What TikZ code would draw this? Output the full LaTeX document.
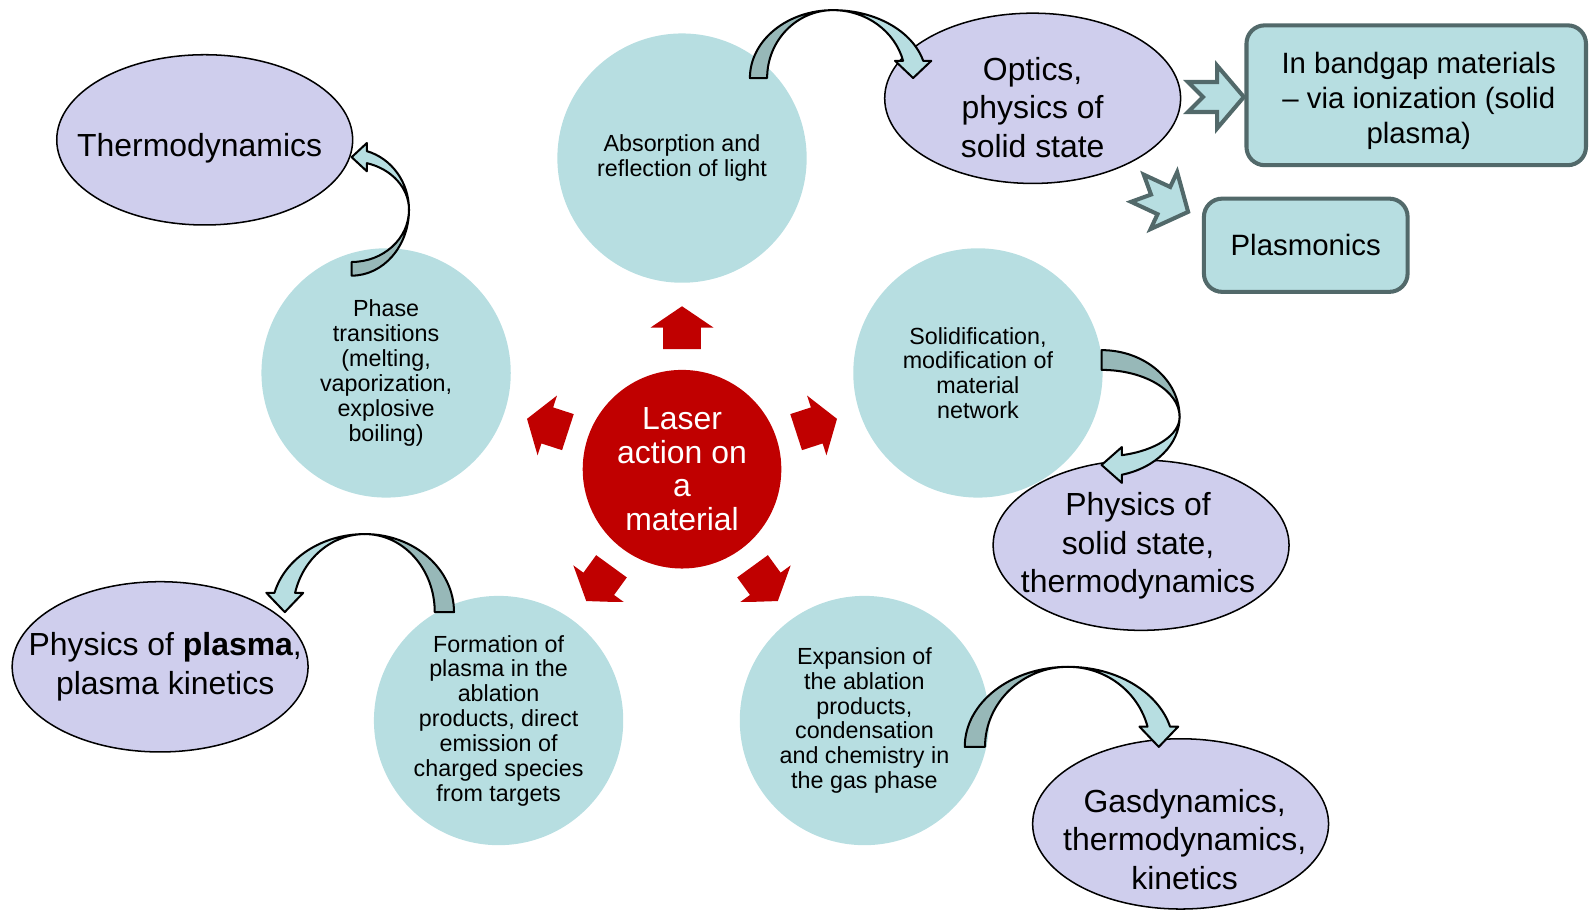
\documentclass[tikz,border=0pt]{standalone}
\usepackage{fontspec}
\setmainfont{Liberation Sans}
\usetikzlibrary{shapes.geometric}
\definecolor{circfill}{HTML}{B7DEE1}
\definecolor{lavfill}{HTML}{CFCEED}
\definecolor{laserred}{HTML}{C00000}
\definecolor{boxline}{HTML}{52696A}
\definecolor{bentdark}{HTML}{97B8B8}

% curved block arrow: #1,#2 foot centre, #3 turn/flip, #4 height,
% #5/#6 outer/inner radius at the tail, #7/#8 outer/inner radius at the head, #9 head length
\newcommand{\bentarrow}[9]{%
\begin{scope}[shift={(#1,#2)},x=1pt,y=1pt,#3]
\pgfmathsetmacro\bang{asin(#9/#4)}
\pgfmathsetmacro\bxo{#7*cos(\bang)}
\pgfmathsetmacro\bxi{#8*cos(\bang)}
\pgfmathsetmacro\bxt{(\bxo+\bxi)/2}
\filldraw[fill=bentdark,draw=black,line width=2pt,line join=round] (-#5,0) arc[start angle=180,end angle=90,x radius=#5,y radius=#4] arc[start angle=90,end angle=180,x radius=#6,y radius=#4] -- cycle;
\filldraw[fill=circfill,draw=black,line width=2pt,line join=round] (0,#4) arc[start angle=90,end angle=\bang,x radius=#7,y radius=#4] -- ({\bxo+8},#9) -- (\bxt,0) -- ({\bxi-8},#9) -- (\bxi,#9) arc[start angle=\bang,end angle=90,x radius=#8,y radius=#4] -- cycle;
\end{scope}}

% notched arrow: #1,#2 centre, #3 turn
\newcommand{\notcharrow}[3]{%
\filldraw[notch,shift={(#1,#2)},rotate=#3] (-27.6,14.8) -- (1.2,14.8) -- (1.2,31) -- (27.6,0) -- (1.2,-31) -- (1.2,-14.8) -- (-27.6,-14.8) -- (-12.8,0) -- cycle;}

\begin{document}
\begin{tikzpicture}[x=1pt,y=-1pt,
bubble/.style={circle,fill=circfill,minimum size=246pt,inner sep=0pt,align=center,font=\fontsize{23}{24.5}\selectfont},
lav/.style={ellipse,draw=black,line width=1.5pt,fill=lavfill,minimum width=292pt,minimum height=168pt,inner sep=0pt},
ovaltext/.style={align=center,font=\fontsize{31.5}{38}\selectfont},
tealbox/.style={rectangle,rounded corners=18pt,draw=boxline,line width=4pt,fill=circfill,inner sep=0pt,align=center,font=\fontsize{29}{34.5}\selectfont},
notch/.style={fill=circfill,draw=boxline,line width=4pt}]
\useasboundingbox (0,0) rectangle (1568,898);

% the five circles round the laser
\node[bubble] (absorb) at (673,156) {Absorption and\\reflection of light};
\node[bubble] (phase) at (381,368) {Phase\\transitions\\(melting,\\vaporization,\\explosive\\boiling)};
\node[bubble] (solid) at (965,368) {Solidification,\\modification of\\material\\network};
\node[bubble] (formation) at (492,711) {Formation of\\plasma in the\\ablation\\products, direct\\emission of\\charged species\\from targets};
\node[bubble] (expansion) at (853,711) {Expansion of\\the ablation\\products,\\condensation\\and chemistry in\\the gas phase};

\node[circle,fill=laserred,minimum size=196pt,inner sep=0pt,text=white,align=center,font=\fontsize{31.5}{33}\selectfont] (laser) at (673,463) {Laser\\action on\\a\\material};

\begin{scope}
\clip (0,0) rectangle (1568,594);
\foreach \a in {18,90,162,234,306}
\fill[laserred,shift={(673,463)},rotate=\a] (118.4,-18.7) -- (139.8,-18.7) -- (139.8,-31) -- (160.8,0) -- (139.8,31) -- (139.8,18.7) -- (118.4,18.7) -- cycle;
\end{scope}

% fields
\node[lav] (thermo) at (202,138) {};
\node[ovaltext] (thermotxt) at (197,146) {Thermodynamics};
\node[lav] (optics) at (1019,97) {};
\node[ovaltext] (opticstxt) at (1019,106) {Optics,\\physics of\\solid state};
\node[lav] (solidstate) at (1126,538) {};
\node[ovaltext] (solidstatetxt) at (1123,539) {Physics of\\solid state,\\thermodynamics};
\node[lav] (plasma) at (158,658) {};
\node[ovaltext] (plasmatxt) at (163,658) {Physics of \textbf{plasma},\\plasma kinetics};
\node[lav] (gas) at (1165,813) {};
\node[ovaltext] (gastxt) at (1169,828) {Gasdynamics,\\thermodynamics,\\kinetics};

\node[tealbox,minimum width=335pt,minimum height=138pt] (bandgap) at (1397.5,94) {};
\node[align=center,font=\fontsize{29}{34.5}\selectfont] (bandgaptxt) at (1400,100) {In bandgap materials\\– via ionization (solid\\plasma)};
\node[tealbox,minimum width=201pt,minimum height=92pt] (plasmonics) at (1288.5,242) {Plasmonics};

\notcharrow{1199.8}{95.7}{0}
\notcharrow{1147.4}{197.4}{-25}

% curved arrows
\bentarrow{822}{77}{}{67}{82}{65}{92}{71.5}{17}
\bentarrow{347}{207}{rotate=90,yscale=-1}{56.6}{65}{51.5}{60}{47.7}{15}
\bentarrow{1087}{411.5}{rotate=-90}{77}{66}{46.5}{59}{39}{20}
\bentarrow{360}{604}{xscale=-1}{77}{88}{69}{92}{71}{19}
\bentarrow{1054}{737}{}{79}{102}{82}{104}{81}{20}
\end{tikzpicture}
\end{document}
